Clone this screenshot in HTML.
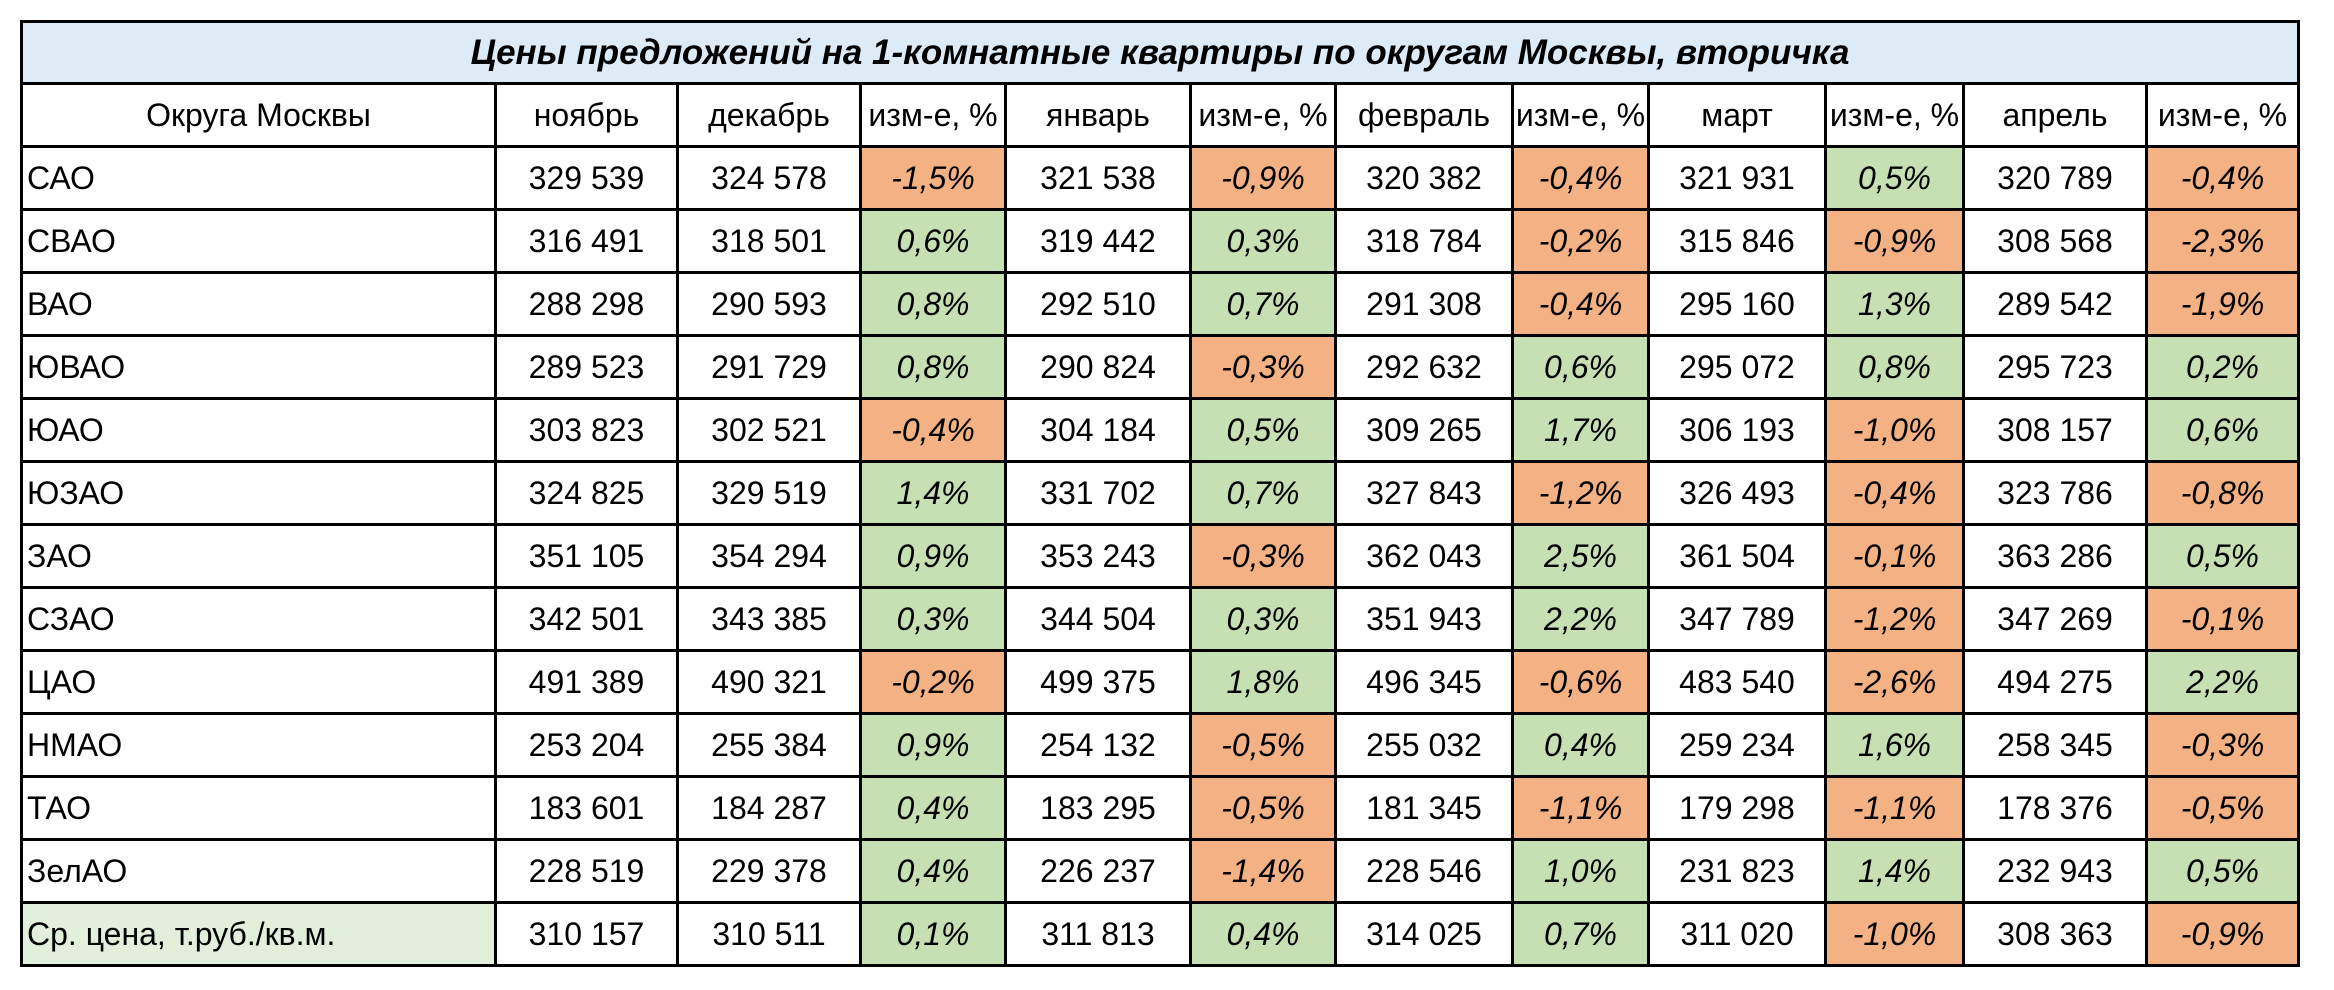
<!DOCTYPE html>
<html><head><meta charset="utf-8">
<style>
html,body{margin:0;padding:0;background:#fff;width:2334px;height:990px;overflow:hidden}
#t{position:absolute;left:20px;top:20px;border-collapse:collapse;table-layout:fixed;font-family:"Liberation Sans","DejaVu Sans",sans-serif;font-size:32px;color:#000}
#t td{border:3px solid #000;padding:0;text-align:center;height:60px;white-space:nowrap;overflow:hidden}
#t td.name{text-align:left;padding-left:4px}
#t td.pct{font-style:italic}
#t td.neg{background:#F4B183}
#t td.pos{background:#C6E0B4}
#t .title{background:#DDEBF7;font-weight:bold;font-style:italic;font-size:35px;height:59px}
#t .avg{background:#E2EFDA}
</style></head><body>
<table id="t">
<colgroup>
<col style="width:474px"><col style="width:182px"><col style="width:183px"><col style="width:145px"><col style="width:185px"><col style="width:145px"><col style="width:177px"><col style="width:136px"><col style="width:177px"><col style="width:138px"><col style="width:183px"><col style="width:152px">
</colgroup>
<tbody id="tb">
<tr><td colspan="12" class="title">Цены предложений на 1-комнатные квартиры по округам Москвы, вторичка</td></tr>
</tbody></table>
<script>
const headers=["Округа Москвы","ноябрь","декабрь","изм-е, %","январь","изм-е, %","февраль","изм-е, %","март","изм-е, %","апрель","изм-е, %"];
const districts=["САО","СВАО","ВАО","ЮВАО","ЮАО","ЮЗАО","ЗАО","СЗАО","ЦАО","НМАО","ТАО","ЗелАО","Ср. цена, т.руб./кв.м."];
const nov=[329539,316491,288298,289523,303823,324825,351105,342501,491389,253204,183601,228519,310157];
const dec=[324578,318501,290593,291729,302521,329519,354294,343385,490321,255384,184287,229378,310511];
const decChg=[-1.5,0.6,0.8,0.8,-0.4,1.4,0.9,0.3,-0.2,0.9,0.4,0.4,0.1];
const jan=[321538,319442,292510,290824,304184,331702,353243,344504,499375,254132,183295,226237,311813];
const janChg=[-0.9,0.3,0.7,-0.3,0.5,0.7,-0.3,0.3,1.8,-0.5,-0.5,-1.4,0.4];
const feb=[320382,318784,291308,292632,309265,327843,362043,351943,496345,255032,181345,228546,314025];
const febChg=[-0.4,-0.2,-0.4,0.6,1.7,-1.2,2.5,2.2,-0.6,0.4,-1.1,1.0,0.7];
const mar=[321931,315846,295160,295072,306193,326493,361504,347789,483540,259234,179298,231823,311020];
const marChg=[0.5,-0.9,1.3,0.8,-1.0,-0.4,-0.1,-1.2,-2.6,1.6,-1.1,1.4,-1.0];
const apr=[320789,308568,289542,295723,308157,323786,363286,347269,494275,258345,178376,232943,308363];
const aprChg=[-0.4,-2.3,-1.9,0.2,0.6,-0.8,0.5,-0.1,2.2,-0.3,-0.5,0.5,-0.9];
const tb=document.getElementById('tb');
function fmtN(v){return String(v).replace(/\B(?=(\d{3})+(?!\d))/g,' ');}
function fmtP(v){return v.toFixed(1).replace('.',',')+'%';}
const hr=document.createElement('tr');


headers.forEach(h=>{const c=document.createElement('td');c.textContent=h;


hr.appendChild(c);});
tb.appendChild(hr);
const cols=[[nov,null],[dec,decChg],[jan,janChg],[feb,febChg],[mar,marChg],[apr,aprChg]];
districts.forEach((d,i)=>{
 const tr=document.createElement('tr');
 
 
 const n=document.createElement('td');n.className='name'+(i===districts.length-1?' avg':'');n.textContent=d;
 
 
 tr.appendChild(n);
 cols.forEach(([vals,chg])=>{
  const c=document.createElement('td');c.textContent=fmtN(vals[i]);
  
  
  tr.appendChild(c);
  if(chg){const p=document.createElement('td');p.className='pct '+(chg[i]<0?'neg':'pos');p.textContent=fmtP(chg[i]);
  
  
  tr.appendChild(p);}
 });
 tb.appendChild(tr);
});
</script>
</body></html>
